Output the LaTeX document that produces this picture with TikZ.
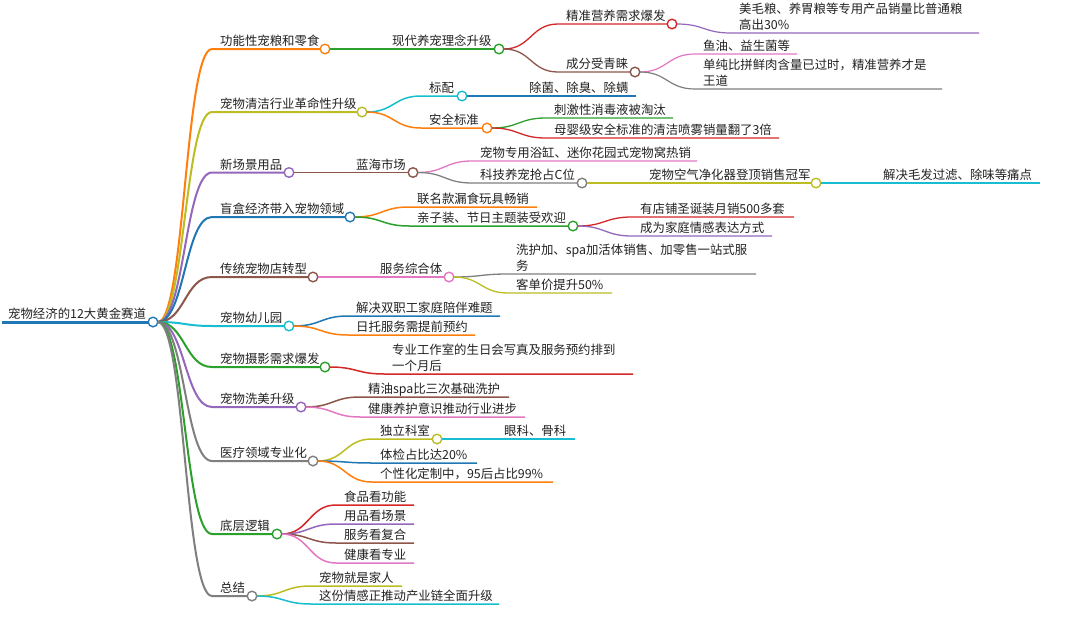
\documentclass[tikz,border=0pt]{standalone}
\usepackage{fontspec}
\newfontfamily\cjk{Noto Sans CJK SC}
\usetikzlibrary{calc}
\definecolor{mmblue}{HTML}{1F77B4}
\definecolor{mmorange}{HTML}{FF7F0E}
\definecolor{mmgreen}{HTML}{2CA02C}
\definecolor{mmred}{HTML}{D62728}
\definecolor{mmpurple}{HTML}{9467BD}
\definecolor{mmbrown}{HTML}{8C564B}
\definecolor{mmpink}{HTML}{E377C2}
\definecolor{mmgray}{HTML}{7F7F7F}
\definecolor{mmolive}{HTML}{BCBD22}
\definecolor{mmcyan}{HTML}{17BECF}
\definecolor{mmtxt}{HTML}{222222}
\tikzset{
  mmtext/.style={font=\cjk\fontsize{12.4}{16}\selectfont, text=mmtxt, inner sep=0pt, anchor=base west, align=left},
  mmdot/.style={circle, fill=white, line width=1.4pt, minimum size=9.6pt, inner sep=0pt},
}
% #1 name #2 parent #3 colour #4 width #5 start x #6 end x #7 y #8 text #9 c=branch
\newcommand{\mmnode}[9]{%
  \coordinate (#1s) at (#5,#7);
  \coordinate (#1e) at (#6,#7);
  \coordinate (#1o) at ({#6+4.8},#7);
  \coordinate (#1m) at ($(#2o)!0.5!(#1s)$);
  \draw[line width=#4, draw=#3] (#2o) .. controls (#1m |- #2o) and (#1m |- #1s) .. (#1s) -- (#1e);
  \node[mmtext] (#1) at ($(#1s)+(8,-3.2)$) {#8};
  \ifx c#9 \node[mmdot, draw=#3] (#1c) at (#1e) {};\fi
}
\begin{document}
\begin{tikzpicture}[x=1pt,y=-1pt]
\fill[white] (0,0) rectangle (1080,627);
\useasboundingbox (0,0) rectangle (1080,627);
% root
\coordinate (Rs) at (2,322);
\coordinate (Re) at (153,322);
\coordinate (Ro) at (157.8,322);
\draw[line width=3pt, mmblue] (Rs) -- (Re);
\node[mmtext] (R) at (8,318.8) {宠物经济的12大黄金赛道};
\node[mmdot, draw=mmblue] (Rc) at (Re) {};
% A
\mmnode{A}{R}{mmorange}{2pt}{212}{325}{49}{功能性宠粮和零食}{c}
\mmnode{Aa}{A}{mmgreen}{1.5pt}{384}{499}{49}{现代养宠理念升级}{c}
\mmnode{Aaa}{Aa}{mmred}{1.3pt}{558}{672}{24}{精准营养需求爆发}{c}
\mmnode{Aaaa}{Aaa}{mmpurple}{1.2pt}{731}{979}{33}{美毛粮、养胃粮等专用产品销量比普通粮\\高出30\%}{l}
\mmnode{Aab}{Aa}{mmbrown}{1.3pt}{558}{635}{72}{成分受青睐}{c}
\mmnode{Aaba}{Aab}{mmpink}{1.2pt}{695}{797}{54}{鱼油、益生菌等}{l}
\mmnode{Aabb}{Aab}{mmgray}{1.2pt}{695}{942}{89}{单纯比拼鲜肉含量已过时，精准营养才是\\王道}{l}
% B
\mmnode{B}{R}{mmolive}{2pt}{212}{362}{112}{宠物清洁行业革命性升级}{c}
\mmnode{Ba}{B}{mmcyan}{1.5pt}{421}{462}{96}{标配}{c}
\mmnode{Baa}{Ba}{mmblue}{1.3pt}{521}{636}{96}{除菌、除臭、除螨}{l}
\mmnode{Bb}{B}{mmorange}{1.5pt}{421}{487}{128}{安全标准}{c}
\mmnode{Bba}{Bb}{mmgreen}{1.3pt}{546}{673}{118}{刺激性消毒液被淘汰}{l}
\mmnode{Bbb}{Bb}{mmred}{1.3pt}{546}{779}{138}{母婴级安全标准的清洁喷雾销量翻了3倍}{l}
% C
\mmnode{C}{R}{mmpurple}{2pt}{212}{289}{172.5}{新场景用品}{c}
\mmnode{Ca}{C}{mmbrown}{1.5pt}{348}{413}{172.5}{蓝海市场}{c}
\mmnode{Caa}{Ca}{mmpink}{1.3pt}{472}{697}{161}{宠物专用浴缸、迷你花园式宠物窝热销}{l}
\mmnode{Cab}{Ca}{mmgray}{1.3pt}{472}{582}{183}{科技养宠抢占C位}{c}
\mmnode{Caba}{Cab}{mmolive}{1.2pt}{641}{816}{183}{宠物空气净化器登顶销售冠军}{c}
\mmnode{Cabaa}{Caba}{mmcyan}{1.2pt}{875}{1040}{183}{解决毛发过滤、除味等痛点}{l}
% D
\mmnode{D}{R}{mmblue}{2pt}{212}{350}{217}{盲盒经济带入宠物领域}{c}
\mmnode{Da}{D}{mmorange}{1.5pt}{409}{537}{207}{联名款漏食玩具畅销}{l}
\mmnode{Db}{D}{mmgreen}{1.5pt}{409}{573}{226}{亲子装、节日主题装受欢迎}{c}
\mmnode{Dba}{Db}{mmred}{1.3pt}{632}{794}{217}{有店铺圣诞装月销500多套}{l}
\mmnode{Dbb}{Db}{mmpurple}{1.3pt}{632}{772}{236}{成为家庭情感表达方式}{l}
% E
\mmnode{E}{R}{mmbrown}{2pt}{212}{313}{277}{传统宠物店转型}{c}
\mmnode{Ea}{E}{mmpink}{1.5pt}{372}{449}{277}{服务综合体}{c}
\mmnode{Eaa}{Ea}{mmgray}{1.3pt}{508}{756}{274}{洗护加、spa加活体销售、加零售一站式服\\务}{l}
\mmnode{Eab}{Ea}{mmolive}{1.3pt}{508}{612}{293}{客单价提升50\%}{l}
% F
\mmnode{F}{R}{mmcyan}{2pt}{212}{289}{326}{宠物幼儿园}{c}
\mmnode{Fa}{F}{mmblue}{1.5pt}{348}{500}{316}{解决双职工家庭陪伴难题}{l}
\mmnode{Fb}{F}{mmorange}{1.5pt}{348}{475}{335}{日托服务需提前预约}{l}
% G
\mmnode{G}{R}{mmgreen}{2pt}{212}{325}{367}{宠物摄影需求爆发}{c}
\mmnode{Ga}{G}{mmred}{1.5pt}{384}{633}{374}{专业工作室的生日会写真及服务预约排到\\一个月后}{l}
% H
\mmnode{H}{R}{mmpurple}{2pt}{212}{301}{407}{宠物洗美升级}{c}
\mmnode{Ha}{H}{mmbrown}{1.5pt}{360}{509}{397}{精油spa比三次基础洗护}{l}
\mmnode{Hb}{H}{mmpink}{1.5pt}{360}{525}{417}{健康养护意识推动行业进步}{l}
% I
\mmnode{I}{R}{mmgray}{2pt}{212}{313}{461}{医疗领域专业化}{c}
\mmnode{Ia}{I}{mmolive}{1.5pt}{372}{437}{439}{独立科室}{c}
\mmnode{Iaa}{Ia}{mmcyan}{1.3pt}{496}{575}{439}{眼科、骨科}{l}
\mmnode{Ib}{I}{mmblue}{1.5pt}{372}{477}{463}{体检占比达20\%}{l}
\mmnode{Ic}{I}{mmorange}{1.5pt}{372}{553}{482}{个性化定制中，95后占比99\%}{l}
% J
\mmnode{J}{R}{mmgreen}{2pt}{212}{277}{534}{底层逻辑}{c}
\mmnode{Ja}{J}{mmred}{1.5pt}{336}{414}{505}{食品看功能}{l}
\mmnode{Jb}{J}{mmpurple}{1.5pt}{336}{414}{524}{用品看场景}{l}
\mmnode{Jc}{J}{mmbrown}{1.5pt}{336}{414}{543}{服务看复合}{l}
\mmnode{Jd}{J}{mmpink}{1.5pt}{336}{414}{563}{健康看专业}{l}
% K
\mmnode{K}{R}{mmgray}{2pt}{212}{252}{596}{总结}{c}
\mmnode{Ka}{K}{mmolive}{1.5pt}{311}{402}{586}{宠物就是家人}{l}
\mmnode{Kb}{K}{mmcyan}{1.5pt}{311}{499}{604}{这份情感正推动产业链全面升级}{l}
\end{tikzpicture}
\end{document}
